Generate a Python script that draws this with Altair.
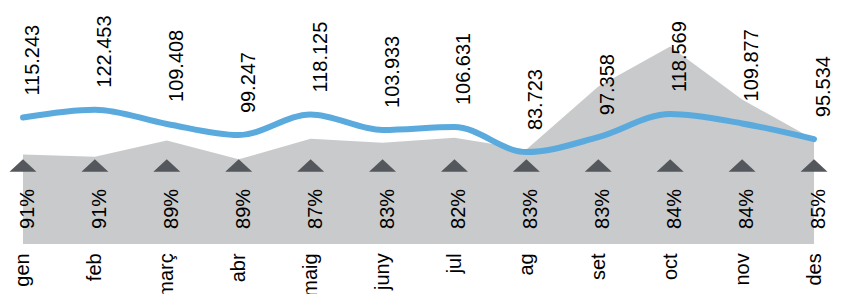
import altair as alt
import pandas as pd

months = ["gen", "feb", "març", "abr", "maig", "juny", "jul", "ag", "set", "oct", "nov", "des"]
values = [115.243, 122.453, 109.408, 99.247, 118.125, 103.933, 106.631, 83.723, 97.358, 118.569, 109.877, 95.534]
pcts = [91, 91, 89, 89, 87, 83, 82, 83, 83, 84, 84, 85]
area_vals = [81.6, 79.5, 94.3, 77.1, 95.9, 92.3, 96.8, 86.1, 143.6, 180.0, 131.7, 95.3]

df = pd.DataFrame({
    "mes": months,
    "valor": values,
    "pct": pcts,
    "area": area_vals,
})
df["vlabel"] = [f"{v:.3f}" for v in values]
df["plabel"] = [f"{p}%" for p in pcts]

FONT = "Liberation Sans"

x_enc = alt.X(
    "mes:N",
    sort=months,
    scale=alt.Scale(type="point", padding=0),
    axis=alt.Axis(
        title=None, labelAngle=-90, labelAlign="right", labelBaseline="middle",
        domain=False, ticks=False, grid=False, labelFontSize=20, labelFont=FONT,
        labelColor="#000000", labelPadding=9,
    ),
)
y_scale = alt.Scale(domain=[0, 215])

base = alt.Chart(df).encode(x=x_enc)

area = base.mark_area(color="#c8cacc", interpolate="linear").encode(
    y=alt.Y("area:Q", scale=y_scale, axis=None)
)
line = base.mark_line(color="#5aaadd", strokeWidth=6, interpolate="monotone", strokeCap="round").encode(
    y=alt.Y("valor:Q", scale=y_scale, axis=None)
)
tri = base.mark_point(
    shape="M-1,0.46L1,0.46L0,-0.46Z", size=729, filled=True, color="#54575b", opacity=1
).encode(y=alt.value(157.5))
vtext = base.mark_text(
    angle=270, align="left", baseline="top", dx=22, fontSize=20, font=FONT, color="#000000"
).encode(y=alt.Y("valor:Q", scale=y_scale, axis=None), text="vlabel:N")
ptext = base.mark_text(
    angle=270, align="center", baseline="middle", dy=5, fontSize=20, font=FONT, color="#000000"
).encode(y=alt.value(201), text="plabel:N")

chart = alt.layer(area, line, tri, vtext, ptext).properties(
    width=792, height=236,
    autosize=alt.AutoSizeParams(type="none"),
    padding={"left": 15, "top": 0, "right": 22, "bottom": 50},
).configure_view(strokeWidth=0)

chart.save("out.html", embed_options={"renderer": "svg", "actions": False})
